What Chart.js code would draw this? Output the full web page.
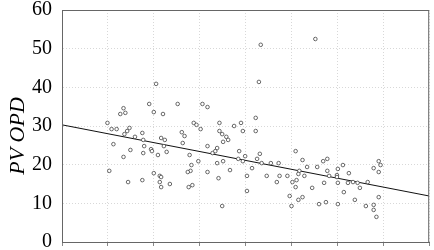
<!DOCTYPE html>
<html lang="en">
<head>
    <meta charset="UTF-8">
    <title>PV OPD</title>
    <script src="https://cdn.jsdelivr.net/npm/chart.js"></script>
    <style>
        html, body { margin: 0; padding: 0; background: #fff; }
        #box { width: 434px; height: 250px; }
    </style>
</head>
<body>
    <div id="box"><canvas id="scatterChart"></canvas></div>

    <script>
        // values (x has no visible labels, grid steps = 1)
        const xVals = [0.99, 1.08, 1.03, 1.12, 1.19, 1.27, 1.34, 1.38, 1.36, 1.42, 1.47, 1.34, 1.49, 1.44, 1.59, 1.75, 1.77, 1.77, 1.79, 1.75,
            1.90, 1.94, 1.96, 2.00, 2.00, 2.05, 2.09, 2.13, 2.16, 2.13, 2.16, 2.16, 2.20, 2.22, 2.24, 2.28, 2.35, 2.52, 2.61, 2.63, 2.67,
            2.78, 2.80, 2.82, 2.74, 2.76, 2.84, 2.87, 2.93, 2.97, 3.02, 3.06, 3.17, 3.17, 3.17, 3.28, 3.34, 3.38, 3.38, 3.41, 3.43, 3.43,
            3.49, 3.49, 3.51, 3.51, 3.58, 3.62, 3.66, 3.75, 3.84, 3.86, 3.90, 3.94, 3.94, 3.99, 4.03, 4.03, 4.14, 4.22, 4.22, 4.25, 4.29,
            4.33, 4.31, 4.35, 4.46, 4.55, 4.68, 4.72, 4.74, 4.91, 4.96, 5.00, 5.02, 5.09, 5.09, 5.11, 5.15, 5.17, 5.15, 5.24, 5.24, 5.28,
            5.34, 5.45, 5.52, 5.56, 5.60, 5.69, 5.71, 5.75, 5.78, 5.78, 5.82, 5.99, 5.99, 6.01, 6.01, 6.12, 6.01, 6.14, 6.23, 6.25, 6.34,
            6.38, 6.44, 6.49, 6.62, 6.66, 6.79, 6.79, 6.79, 6.90, 6.94, 6.90, 6.90, 6.85];
        const yVals = [30.8, 29.2, 18.4, 25.3, 29.2, 33.1, 34.6, 33.4, 27.9, 28.7, 29.5, 22.0, 23.8, 15.5, 27.2, 28.2, 26.4, 23.0, 24.8, 16.0,
            35.7, 24.0, 23.5, 33.6, 17.8, 40.9, 22.5, 17.1, 16.8, 15.5, 26.9, 14.2, 33.1, 24.8, 26.4, 23.3, 15.0, 35.7, 28.4, 25.6, 27.4,
            22.5, 18.4, 19.9, 18.1, 14.2, 14.7, 30.8, 30.3, 20.9, 29.2, 35.7, 34.9, 24.8, 18.1, 23.0, 23.5, 24.3, 20.4, 16.5, 30.8, 28.7,
            27.9, 9.3, 25.9, 20.9, 27.2, 26.4, 18.6, 30.0, 21.5, 23.5, 30.8, 28.7, 20.9, 22.2, 17.1, 13.2, 19.1, 32.1, 28.7, 21.5, 41.4,
            51.0, 22.8, 20.4, 17.1, 20.4, 15.5, 20.4, 17.1, 17.1, 11.9, 9.3, 15.5, 23.5, 14.2, 16.0, 10.9, 18.4, 17.6, 21.2, 11.6, 17.1,
            19.4, 14.0, 52.5, 19.4, 9.8, 20.9, 15.3, 10.3, 21.5, 18.4, 17.1, 17.3, 16.8, 15.3, 9.8, 19.9, 18.9, 12.9, 15.3, 17.8, 15.5,
            10.9, 15.3, 14.0, 9.3, 15.5, 19.1, 9.6, 8.3, 20.9, 19.9, 18.1, 11.6, 6.5];

        // fitted line end points
        const fitX = [0, 8];
        const fitY = [30.3, 11.9];

        const yTicks = [0, 10, 20, 30, 40, 50, 60];
        const yTitle = 'PV OPD';
        const serif = '"Liberation Serif", "Times New Roman", Times, serif';

        const points = xVals.map((x, i) => ({ x: x, y: yVals[i] }));
        const fitLine = fitX.map((x, i) => ({ x: x, y: fitY[i] }));

        // frame round the plot + rotated axis title
        const framePlugin = {
            id: 'frame',
            afterDraw(chart) {
                const { ctx, chartArea: a } = chart;
                ctx.save();
                ctx.strokeStyle = '#666';
                ctx.lineWidth = 1;
                ctx.strokeRect(a.left + 0.5, a.top + 0.5, a.right - a.left - 1, a.bottom - a.top);
                ctx.translate(18, 136);
                ctx.rotate(-Math.PI / 2);
                ctx.font = 'italic 22px ' + serif;
                ctx.fillStyle = '#000';
                ctx.textAlign = 'center';
                ctx.textBaseline = 'middle';
                ctx.fillText(yTitle, 0, 0);
                ctx.restore();
            }
        };

        function drawChart() {
            const ctx = document.getElementById('scatterChart').getContext('2d');
            return new Chart(ctx, {
                type: 'scatter',
                data: {
                    datasets: [{
                        data: points,
                        pointStyle: 'circle',
                        pointRadius: 1.8,
                        pointBorderWidth: 0.8,
                        borderColor: '#444',
                        backgroundColor: '#fff'
                    }, {
                        type: 'line',
                        data: fitLine,
                        borderColor: '#111',
                        borderWidth: 1,
                        pointRadius: 0,
                        fill: false
                    }]
                },
                options: {
                    responsive: true,
                    maintainAspectRatio: false,
                    animation: false,
                    layout: { padding: { top: 10, right: 1, left: 0, bottom: 0 } },
                    plugins: {
                        legend: { display: false },
                        tooltip: { enabled: false }
                    },
                    scales: {
                        x: {
                            type: 'linear',
                            min: 0,
                            max: 8,
                            ticks: { display: false, stepSize: 1 },
                            grid: { color: '#d8d8d8', tickLength: 4, tickColor: '#888' },
                            border: { color: '#666', dash: [1, 2] },
                            afterFit(scale) {
                                scale.height = 8;
                                scale.paddingLeft = 0;
                                scale.paddingRight = 0;
                            }
                        },
                        y: {
                            min: 0,
                            max: 60,
                            afterBuildTicks(scale) { scale.ticks = yTicks.map(v => ({ value: v })); },
                            ticks: {
                                color: '#000',
                                padding: 10,
                                font: { family: serif, size: 20 }
                            },
                            grid: { color: '#d8d8d8', drawTicks: false },
                            border: { color: '#666', dash: [1, 2] },
                            afterFit(scale) {
                                scale.width = 62;
                                scale.paddingTop = 0;
                                scale.paddingBottom = 0;
                            }
                        }
                    }
                },
                plugins: [framePlugin]
            });
        }

        document.fonts.load('20px "Liberation Serif"').then(drawChart, drawChart);
    </script>
</body>
</html>
